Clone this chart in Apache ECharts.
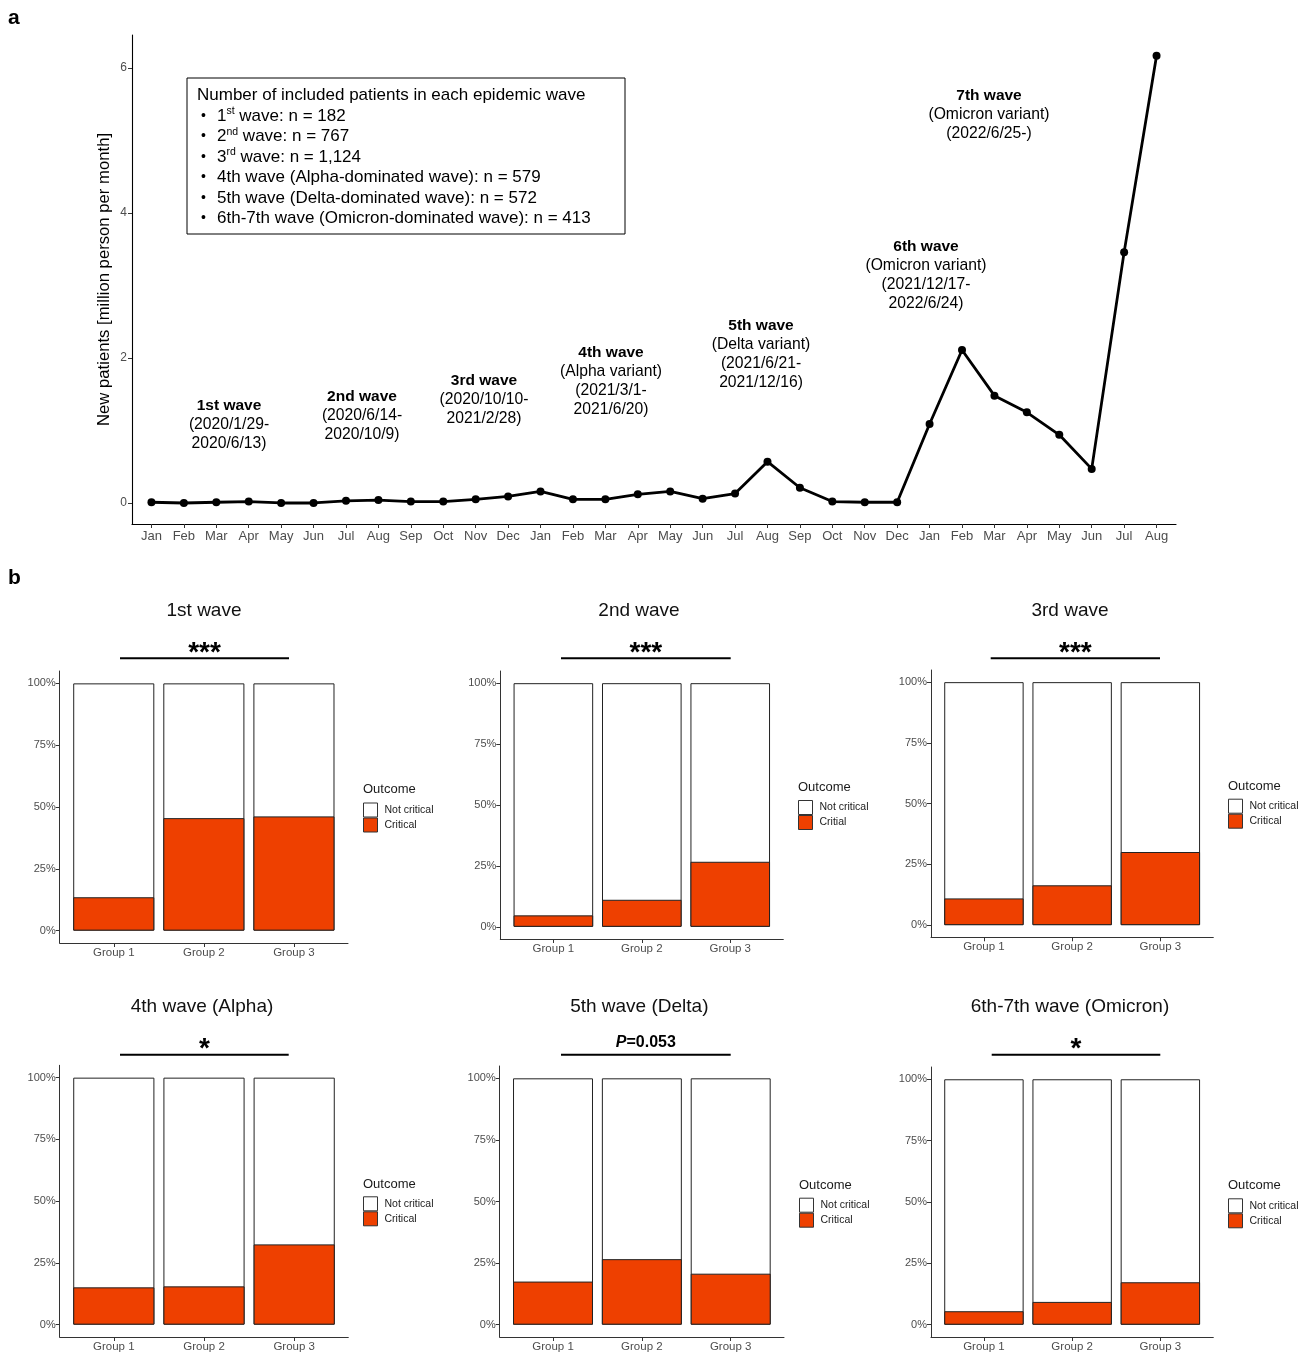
<!DOCTYPE html>
<html><head><meta charset="utf-8">
<script src="https://cdn.jsdelivr.net/npm/echarts@6/dist/echarts.min.js"></script>
<style>html,body{margin:0;padding:0;background:#fff}#c{width:1308px;height:1353px}</style>
</head><body><div id="c"></div>
<script>
// ---------- DATA ----------
const months = ['Jan','Feb','Mar','Apr','May','Jun','Jul','Aug','Sep','Oct','Nov','Dec',
                'Jan','Feb','Mar','Apr','May','Jun','Jul','Aug','Sep','Oct','Nov','Dec',
                'Jan','Feb','Mar','Apr','May','Jun','Jul','Aug'];
const newPatients = [0.01,0.00,0.01,0.02,0.00,0.00,0.03,0.04,0.02,0.02,0.05,0.09,
                     0.16,0.05,0.05,0.12,0.16,0.06,0.13,0.57,0.21,0.02,0.01,0.01,
                     1.09,2.11,1.48,1.25,0.94,0.47,3.46,6.17];
const yTicksTop = [0,2,4,6];
const waveTitles = ['1st wave','2nd wave','3rd wave','4th wave','5th wave','6th wave','7th wave'];
const waveDetails = [
  ['(2020/1/29-','2020/6/13)'],
  ['(2020/6/14-','2020/10/9)'],
  ['(2020/10/10-','2021/2/28)'],
  ['(Alpha variant)','(2021/3/1-','2021/6/20)'],
  ['(Delta variant)','(2021/6/21-','2021/12/16)'],
  ['(Omicron variant)','(2021/12/17-','2022/6/24)'],
  ['(Omicron variant)','(2022/6/25-)']
];
const boxTitle = 'Number of included patients in each epidemic wave';
const boxLines = [
  '1{s|st} wave: n = 182',
  '2{s|nd} wave: n = 767',
  '3{s|rd} wave: n = 1,124',
  '4th wave (Alpha-dominated wave): n = 579',
  '5th wave (Delta-dominated wave): n = 572',
  '6th-7th wave (Omicron-dominated wave): n = 413'
];
const yTitleTop = 'New patients [million person per month]';

const groups = ['Group 1','Group 2','Group 3'];
const panelTitles = ['1st wave','2nd wave','3rd wave','4th wave (Alpha)','5th wave (Delta)','6th-7th wave (Omicron)'];
const criticalPct = [
  [13.5,45.5,46.2],
  [4.7,11.1,26.7],
  [11.0,16.4,30.1],
  [15.1,15.5,32.5],
  [17.5,26.6,20.7],
  [5.5,9.3,17.3]
];
const significance = ['***','***','***','*','P=0.053','*'];
const notCriticalLabel = 'Not critical';
const criticalLabels = ['Critical','Critial','Critical','Critical','Critical','Critical'];
const legendTitle = 'Outcome';
const pctTicks = [0,25,50,75,100];

// ---------- LAYOUT / STYLE ----------
const FF = 'Liberation Sans, Arial, Helvetica, sans-serif';
const ORANGE = '#EE4000';
const waveLabelPos = [[229,424.5],[362,415.5],[484,400],[611,381],[761,354],[926,275],[989,114.5]];
const panels = [
  {l:59.7, t:671,   w:288.3, h:272,   tx:204,   ty:610.7, sx1:120,   sx2:289,   sy:658.3, lx:363,  ly:802.5,  oy:789},
  {l:500.3,t:671,   w:283,   h:268,   tx:639,   ty:610.7, sx1:561,   sx2:730.7, sy:658.3, lx:798,  ly:800,    oy:787.7},
  {l:931,  t:670,   w:282.3, h:267.3, tx:1070,  ty:610.7, sx1:990.7, sx2:1160,  sy:658.3, lx:1228, ly:798.7,  oy:786},
  {l:59.7, t:1065.3,w:288.6, h:272.4, tx:202,   ty:1006.7,sx1:120,   sx2:288.7, sy:1054.7,lx:363,  ly:1196.3, oy:1184},
  {l:499.7,t:1066,  w:284.3, h:272.3, tx:639.3, ty:1006.7,sx1:561,   sx2:730.7, sy:1054.7,lx:799,  ly:1197.7, oy:1185},
  {l:931,  t:1067,  w:282.3, h:272,   tx:1070,  ty:1006.7,sx1:991.7, sx2:1160.3,sy:1054.7,lx:1228, ly:1198.3, oy:1185.3}
];

const grids = [{left:132, top:35, width:1044, height:489}];
const xAxes = [{
  type:'value', gridIndex:0, min:-0.6, max:31.6,
  axisLine:{show:true, onZero:false, lineStyle:{color:'#000', width:1.1}},
  axisTick:{show:true, customValues: months.map((m,i)=>i), length:4, lineStyle:{color:'#333'}},
  axisLabel:{show:true, customValues: months.map((m,i)=>i), formatter:v=>months[v], fontSize:13, color:'#4d4d4d', fontFamily:FF, margin:6},
  splitLine:{show:false}
}];
const yAxes = [{
  type:'value', gridIndex:0, min:-0.29, max:6.455,
  axisLine:{show:true, onZero:false, lineStyle:{color:'#000', width:1.1}},
  axisTick:{show:true, customValues: yTicksTop, length:4, lineStyle:{color:'#333'}},
  axisLabel:{show:true, customValues: yTicksTop, fontSize:12, color:'#4d4d4d', fontFamily:FF, margin:5},
  splitLine:{show:false}
}];
const series = [{
  type:'line', xAxisIndex:0, yAxisIndex:0,
  data: newPatients.map((v,i)=>[i,v]),
  lineStyle:{color:'#000', width:2.8},
  itemStyle:{color:'#000'},
  symbol:'circle', symbolSize:8, showSymbol:true
}];
const legends = [];
const graphics = [];

panels.forEach((p,i)=>{
  const gi = i+1;
  grids.push({left:p.l, top:p.t, width:p.w, height:p.h});
  xAxes.push({
    type:'value', gridIndex:gi, min:-0.6, max:2.6,
    axisLine:{show:true, onZero:false, lineStyle:{color:'#333', width:1}},
    axisTick:{show:true, customValues:[0,1,2], length:4, lineStyle:{color:'#333'}},
    axisLabel:{show:true, customValues:[0,1,2], formatter:v=>groups[v], fontSize:11.5, color:'#4d4d4d', fontFamily:FF, margin:4},
    splitLine:{show:false}
  });
  yAxes.push({
    type:'value', gridIndex:gi, min:-5, max:105,
    axisLine:{show:true, onZero:false, lineStyle:{color:'#333', width:1}},
    axisTick:{show:true, customValues:pctTicks, length:4, lineStyle:{color:'#333'}},
    axisLabel:{show:true, customValues:pctTicks, formatter:v=>v+'%', fontSize:11, color:'#4d4d4d', fontFamily:FF, margin:4},
    splitLine:{show:false}
  });
  const bw = 0.9*p.w/3.2;
  // stacked bar: "Not critical" segment sits on top of "Critical"; its top is critical + notCritical
  series.push({
    type:'bar', name:notCriticalLabel, xAxisIndex:gi, yAxisIndex:gi, barWidth:bw, barGap:'-100%', z:2,
    data: criticalPct[i].map((v,j)=>[j, v + (100 - v)]),
    itemStyle:{color:'#fff', borderColor:'#222', borderWidth:1}
  });
  series.push({
    type:'bar', name:criticalLabels[i], xAxisIndex:gi, yAxisIndex:gi, barWidth:bw, barGap:'-100%', z:3,
    data: criticalPct[i].map((v,j)=>[j,v]),
    itemStyle:{color:ORANGE, borderColor:'#222', borderWidth:1}
  });
  legends.push({
    orient:'vertical', left:p.lx, top:p.ly, itemWidth:14, itemHeight:14, itemGap:0, padding:0,
    icon:'rect', selectedMode:false, data:[notCriticalLabel, criticalLabels[i]],
    textStyle:{fontSize:10.5, color:'#1a1a1a', fontFamily:FF, padding:[0,0,0,2]},
    itemStyle:{borderColor:'#333', borderWidth:1}
  });
  graphics.push({type:'text', x:p.lx, y:p.oy, style:{text:legendTitle, fontSize:13, fontFamily:FF, fill:'#1a1a1a', align:'left', verticalAlign:'middle'}});
  graphics.push({type:'text', x:p.tx, y:p.ty, style:{text:panelTitles[i], fontSize:19, fontFamily:FF, fill:'#111', align:'center', verticalAlign:'middle'}});
  graphics.push({type:'line', shape:{x1:p.sx1, y1:p.sy, x2:p.sx2, y2:p.sy}, style:{stroke:'#000', lineWidth:2}});
  const sig = significance[i];
  if (sig.startsWith('P=')) {
    graphics.push({type:'text', x:(p.sx1+p.sx2)/2, y:p.sy-12, style:{
      text:'{i|P}{b|'+sig.slice(1)+'}', align:'center', verticalAlign:'middle',
      rich:{i:{fontSize:16, fontFamily:FF, fontWeight:'bold', fontStyle:'italic', fill:'#000'},
            b:{fontSize:16, fontFamily:FF, fontWeight:'bold', fill:'#000'}}}});
  } else {
    graphics.push({type:'text', x:(p.sx1+p.sx2)/2, y:p.sy-5, style:{text:sig, fontSize:28, fontFamily:FF, fontWeight:'bold', fill:'#000', align:'center', verticalAlign:'middle'}});
  }
});

// top chart annotations
waveTitles.forEach((t,i)=>{
  const txt = '{b|'+t+'}\n' + waveDetails[i].map(s=>'{r|'+s+'}').join('\n');
  graphics.push({type:'text', x:waveLabelPos[i][0], y:waveLabelPos[i][1], style:{
    text:txt, align:'center', verticalAlign:'middle',
    rich:{b:{fontSize:15.5, fontFamily:FF, fontWeight:'bold', fill:'#000', lineHeight:19, align:'center'},
          r:{fontSize:15.7, fontFamily:FF, fill:'#000', lineHeight:19, align:'center'}}}});
});
// legend box
graphics.push({type:'rect', shape:{x:187, y:78, width:438, height:156}, style:{fill:'#fff', stroke:'#000', lineWidth:1}});
graphics.push({type:'text', x:197, y:95.5, style:{text:boxTitle, fontSize:17, fontFamily:FF, fill:'#000', align:'left', verticalAlign:'middle'}});
boxLines.forEach((s,i)=>{
  const y = 116 + i*20.5;
  graphics.push({type:'text', x:203.5, y:y, style:{text:'•', fontSize:14, fontFamily:FF, fill:'#000', align:'center', verticalAlign:'middle'}});
  graphics.push({type:'text', x:217, y:y, style:{text:s, fontSize:17, fontFamily:FF, fill:'#000', align:'left', verticalAlign:'middle',
    rich:{s:{fontSize:10.5, fontFamily:FF, fill:'#000', verticalAlign:'top', lineHeight:20}}}});
});
// y axis title
graphics.push({type:'text', x:104, y:279.5, rotation:Math.PI/2, style:{text:yTitleTop, fontSize:16.7, fontFamily:FF, fill:'#000', align:'center', verticalAlign:'middle'}});
// panel letters
graphics.push({type:'text', x:8, y:18, style:{text:'a', fontSize:21, fontWeight:'bold', fontFamily:FF, fill:'#000', align:'left', verticalAlign:'middle'}});
graphics.push({type:'text', x:8, y:578, style:{text:'b', fontSize:21, fontWeight:'bold', fontFamily:FF, fill:'#000', align:'left', verticalAlign:'middle'}});

const chart = echarts.init(document.getElementById('c'), null, {renderer:'canvas'});
chart.setOption({
  animation:false,
  backgroundColor:'#fff',
  textStyle:{fontFamily:FF},
  grid:grids, xAxis:xAxes, yAxis:yAxes, series:series, legend:legends,
  graphic:{elements:graphics}
});
</script></body></html>
